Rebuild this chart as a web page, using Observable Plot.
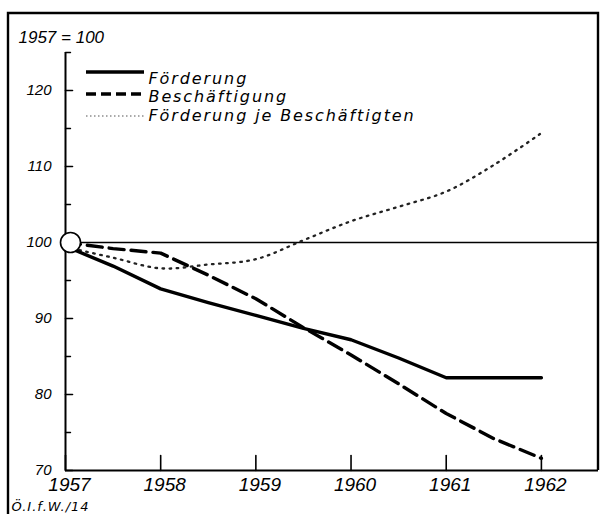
<!DOCTYPE html>
<html>
<head>
<meta charset="utf-8">
<script src="https://cdn.jsdelivr.net/npm/d3@7"></script>
<script src="https://cdn.jsdelivr.net/npm/@observablehq/plot@0.6"></script>
<style>
  html, body { margin: 0; padding: 0; background: #fff; }
  svg { display: block; }
</style>
</head>
<body>
<div id="chart"></div>
<script>
// ---- data ----
const years = [1957, 1957.5, 1958, 1958.5, 1959, 1959.5, 1960, 1960.5, 1961, 1961.5, 1962];
const foerderung = [99.5, 96.9, 93.9, 92.1, 90.4, 88.7, 87.2, 84.8, 82.2, 82.2, 82.2];
const beschaeftigung = [100, 99.2, 98.6, 95.7, 92.6, 88.8, 85.2, 81.4, 77.5, 74.2, 71.6];
const jeBeschaeftigten = [99.4, 98.0, 96.6, 97.1, 97.8, 100.3, 102.8, 104.7, 106.7, 110.2, 114.4];

const seriesNames = ["Förderung", "Beschäftigung", "Förderung je Beschäftigten"];
const yTicks = [70, 80, 90, 100, 110, 120];
const yMinorTicks = [75, 85, 95, 105, 115, 125];
const xTicks = [1957, 1958, 1959, 1960, 1961, 1962];
const baseYear = 1957;
const baseValue = 100;
const title = "1957 = 100";
const caption = "Ö.I.f.W./14";

const rows = (vals) => years.map((x, i) => ({x, y: vals[i]}));
const digitFont = "'Liberation Sans', Arial, sans-serif";
const textFont = "'DejaVu Sans', sans-serif";
const tickShape = {draw(context, l) { context.moveTo(0, 0); context.lineTo(0, -l); }};

const plot = Plot.plot({
  width: 614,
  height: 514,
  marginLeft: 65,
  marginRight: 16,
  marginTop: 13,
  marginBottom: 44,
  x: {domain: [1957, 1962.6]},
  y: {domain: [70, 130.13]},
  style: {fontFamily: digitFont, background: "#fff", color: "#000"},
  marks: [
    // axis lines
    Plot.ruleX([baseYear], {y1: yTicks[0], y2: yMinorTicks[yMinorTicks.length - 1], strokeWidth: 2}),
    Plot.ruleY([yTicks[0]], {strokeWidth: 2}),
    // base line 100
    Plot.ruleY([baseValue], {strokeWidth: 1.4}),
    // inward ticks
    Plot.vector(yTicks, {x: () => baseYear, y: d => d, rotate: 90, length: 7, anchor: "start", shape: tickShape, stroke: "#000", strokeWidth: 1.6}),
    Plot.vector(yMinorTicks, {x: () => baseYear, y: d => d, rotate: 90, length: 5, anchor: "start", shape: tickShape, stroke: "#000", strokeWidth: 1.4}),
    Plot.vector(xTicks, {x: d => d, y: () => yTicks[0], length: 15, anchor: "start", shape: tickShape, stroke: "#000", strokeWidth: 1.6}),
    // tick labels
    Plot.axisY(yTicks, {tickSize: 0, tickPadding: 14, label: null, fontSize: 15, fontStyle: "italic"}),
    Plot.axisX(xTicks, {tickSize: 0, tickPadding: 7, label: null, fontSize: 19, fontStyle: "italic", dx: 4, tickFormat: d => String(d)}),
    // series
    Plot.line(rows(jeBeschaeftigten), {x: "x", y: "y", curve: "catmull-rom", stroke: "#222", strokeWidth: 2.3, strokeDasharray: "1.6,5.5"}),
    Plot.line(rows(beschaeftigung), {x: "x", y: "y", curve: "linear", stroke: "#000", strokeWidth: 3.4, strokeDasharray: "15,7"}),
    Plot.line(rows(foerderung), {x: "x", y: "y", curve: "linear", stroke: "#000", strokeWidth: 3.4}),
    // base circle
    Plot.dot([{x: baseYear, y: baseValue}], {x: "x", y: "y", r: 10, dx: 5, fill: "#fff", stroke: "#000", strokeWidth: 1.6}),
    // title, legend labels, caption
    Plot.text([title], {frameAnchor: "top-left", dx: -47, dy: 29, lineAnchor: "bottom", textAnchor: "start", fontSize: 17, fontStyle: "italic"}),
    Plot.text([seriesNames[0]], {frameAnchor: "top-left", dx: 83, dy: 70, lineAnchor: "bottom", textAnchor: "start", fontSize: 16, fontStyle: "italic", fontFamily: textFont}),
    Plot.text([seriesNames[1]], {frameAnchor: "top-left", dx: 83, dy: 88.5, lineAnchor: "bottom", textAnchor: "start", fontSize: 16, fontStyle: "italic", fontFamily: textFont}),
    Plot.text([seriesNames[2]], {frameAnchor: "top-left", dx: 83, dy: 107, lineAnchor: "bottom", textAnchor: "start", fontSize: 16, fontStyle: "italic", fontFamily: textFont}),
    Plot.text([caption], {frameAnchor: "bottom-left", dx: -54, dy: 40, lineAnchor: "bottom", textAnchor: "start", fontSize: 13, fontStyle: "italic", fontFamily: textFont})
  ]
});

document.getElementById("chart").appendChild(plot);

const svg = d3.select(plot);
// letter spacing like the stencil lettering of the original
svg.selectAll("text").filter(function() { return seriesNames.includes(this.textContent); })
  .attr("letter-spacing", "1.9px");
svg.selectAll("text").filter(function() { return this.textContent === caption; })
  .attr("letter-spacing", "1px");

// frame and legend swatches (decoration)
const g = svg.append("g").attr("fill", "none").attr("stroke", "#000");
g.append("path").attr("d", "M8,514 L8,13 L598,13 L598,470").attr("stroke-width", 2.4);
g.append("line").attr("x1", 86).attr("x2", 144).attr("y1", 72).attr("y2", 72).attr("stroke-width", 3.4);
g.append("line").attr("x1", 86).attr("x2", 144).attr("y1", 94).attr("y2", 94).attr("stroke-width", 3.4).attr("stroke-dasharray", "10,5");
g.append("line").attr("x1", 86).attr("x2", 144).attr("y1", 116).attr("y2", 116).attr("stroke-width", 1.2).attr("stroke", "#555").attr("stroke-dasharray", "1.5,2.5");
</script>
</body>
</html>
